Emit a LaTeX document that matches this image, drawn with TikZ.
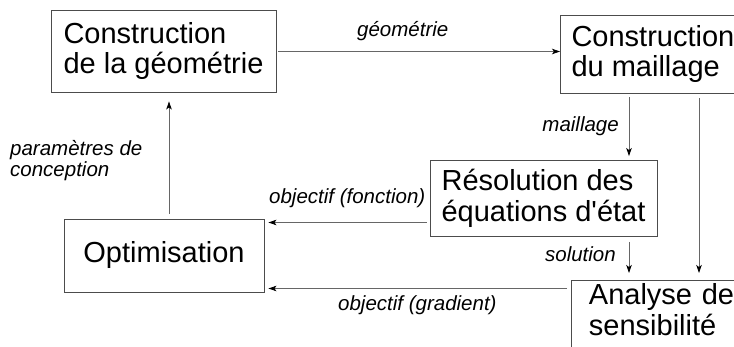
\documentclass[tikz,border=0pt]{standalone}
\usepackage{fontspec}
\setmainfont{Liberation Sans}
\usetikzlibrary{arrows.meta,calc}
\begin{document}
\begin{tikzpicture}[x=1pt,y=-1pt,
  box/.style={draw=black!70, line width=0.9pt, inner sep=0pt, align=left,
    font=\fontsize{29}{30.5}\selectfont},
  lbl/.style={inner sep=0pt, align=left, font=\fontsize{20.5}{21}\selectfont\itshape},
  conn/.style={draw=black!60, line width=0.8pt,
    -{Stealth[length=8pt,width=5.5pt,inset=2pt,color=black]}}]
\useasboundingbox (0,0) rectangle (734,347);
% boxes
\node[box, minimum width=225pt, minimum height=82pt] (b1) at (163.5,51) {Construction\\de la géométrie};
\node[box, anchor=west, minimum width=185pt, minimum height=78pt] (b2) at (560,54) {Construction\\du maillage};
\node[box, minimum width=227pt, minimum height=76pt] (b3) at (543.5,198.5) {Résolution des\\équations d\textquotesingle état};
\node[box, minimum width=200pt, minimum height=73pt, align=center] (b4) at (164,255.5) {Optimisation};
\node[box, anchor=north west, minimum width=185pt, minimum height=90pt, text width=150pt, text depth=62pt] (b5) at (571,280) {\mbox{Analyse de}\\sensibilité};
% helper coordinates
\coordinate (xa) at (629,0);
\coordinate (xb) at (699,0);
\coordinate (xc) at (169,0);
\coordinate (yg) at (0,51.5);
\coordinate (ya) at (0,222.5);
\coordinate (yb) at (0,288.5);
% connectors
\draw[conn, shorten <=2pt] (b1.east |- yg) -- (b2.west |- yg);
\draw[conn, shorten <=4pt, shorten >=4pt] (xa |- b2.south) -- (xa |- b3.north);
\draw[conn, shorten <=5pt, shorten >=7pt] (xb |- b2.south) -- (xb |- b5.north);
\draw[conn, shorten <=5pt, shorten >=7pt] (xa |- b3.south) -- (xa |- b5.north);
\draw[conn, shorten <=3pt, shorten >=4pt] (b3.west |- ya) -- (b4.east |- ya);
\draw[conn, shorten <=4pt, shorten >=4pt] (b5.west |- yb) -- (b4.east |- yb);
\draw[conn, shorten <=5pt, shorten >=9pt] (xc |- b4.north) -- (xc |- b1.south);
% labels
\node[lbl, anchor=base west] (lg) at (357,36.7) {géométrie};
\node[lbl, anchor=base east] (lm) at (619,131.5) {maillage};
\node[lbl, anchor=base east] (ls) at (616,261.7) {solution};
\node[lbl, anchor=base west] (lf) at (269,204) {objectif (fonction)};
\node[lbl, anchor=base west] (lgr) at (338,311) {objectif (gradient)};
\node[lbl, anchor=north west] (lp) at (10,140.3) {paramètres de\\conception};
\end{tikzpicture}
\end{document}
